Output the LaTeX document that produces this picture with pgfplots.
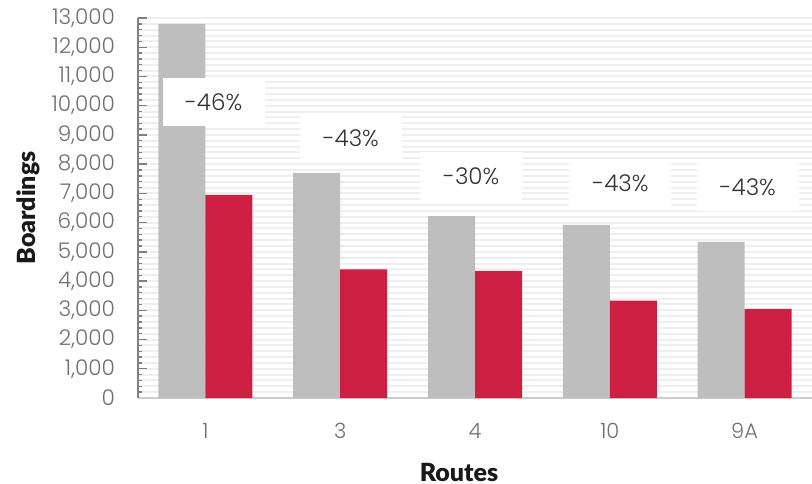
\documentclass[border=0pt]{standalone}
\usepackage{pgfplots}
\pgfplotsset{compat=1.18}
\usepackage{fontspec}
\setmainfont{Poppins}[UprightFont=* Light]
\newfontfamily\labfont{Lato}[UprightFont=* Black]
\definecolor{bargrey}{RGB}{190,190,190}
\definecolor{barred}{RGB}{205,31,65}
\definecolor{gridc}{RGB}{239,239,239}
\definecolor{tickc}{RGB}{112,112,112}
\definecolor{yaxisc}{RGB}{128,128,128}
\definecolor{xaxisc}{RGB}{205,205,205}
\begin{document}
\begin{tikzpicture}
\begin{axis}[
  scale only axis,
  width=337pt, height=190pt,
  ybar=0pt, bar width=23.5pt,
  xmin=-0.5, xmax=4.5,
  ymin=0, ymax=13000,
  xtick={0,1,2,3,4},
  xticklabels={1,3,4,10,9A},
  extra x ticks={-0.5,0.5,1.5,2.5,3.5,4.5},
  extra x tick labels={},
  extra x tick style={major tick length=3.5pt, tick style={draw=xaxisc, line width=0.8pt}, grid=none},
  ytick={0,1000,...,13000},
  minor ytick={0,200,...,13000},
  axis lines*=left,
  x axis line style={-, draw=xaxisc, line width=1pt},
  y axis line style={-, draw=yaxisc, line width=0.8pt},
  tick align=inside,
  major x tick style={draw=none},
  ytick style={draw=yaxisc, line width=0.7pt},
  major tick length=4.5pt,
  minor tick length=2pt,
  ymajorgrids, yminorgrids,
  major grid style={draw=gridc, line width=1pt},
  minor grid style={draw=gridc, line width=1pt},
  /pgf/number format/assume math mode=true,
  /pgf/number format/1000 sep={,},
  scaled y ticks=false,
  yticklabel style={font=\fontsize{10.8}{12}\selectfont, text=tickc, xshift=-8pt},
  xticklabel style={font=\fontsize{10.5}{12}\selectfont, text=tickc, yshift=-9pt},
  ylabel={\labfont\fontsize{12.5}{14}\selectfont Boardings},
  xlabel={\labfont\fontsize{12.5}{14}\selectfont Routes},
  ylabel style={at={(axis description cs:0,0.5)}, anchor=center, yshift=55pt, text=black!90},
  xlabel style={at={(axis description cs:0.5,0)}, anchor=center, yshift=-37pt, xshift=-8pt, text=black!90},
  clip=false,
]
\addplot[fill=bargrey, draw=none] coordinates {(0,12800) (1,7700) (2,6220) (3,5920) (4,5340)};
\addplot[fill=barred, draw=none] coordinates {(0,6950) (1,4400) (2,4350) (3,3330) (4,3050)};
\begin{scope}[every node/.style={fill=white, minimum width=51pt, minimum height=24pt, inner sep=0pt, text=black!80, font=\fontsize{11.5}{13}\selectfont}]
\node at (axis cs:0.061,10110) {-46\%};
\node at (axis cs:1.079,8895) {-43\%};
\node at (axis cs:1.972,7595) {-30\%};
\node at (axis cs:3.079,7355) {-43\%};
\node at (axis cs:4.024,7220) {-43\%};
\end{scope}
\end{axis}
\pgfresetboundingbox
\path[use as bounding box] (-69pt,-42.5pt) rectangle (337pt,199pt);
\end{tikzpicture}
\end{document}
